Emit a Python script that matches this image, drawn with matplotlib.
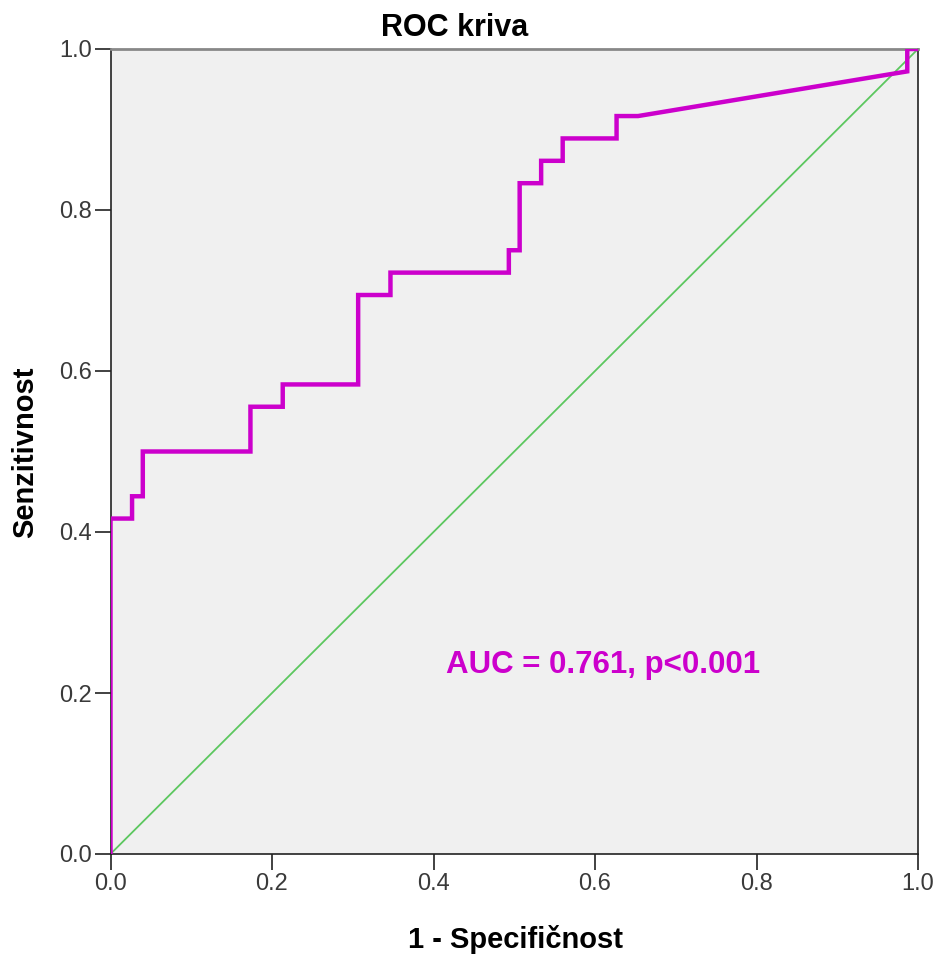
import matplotlib
matplotlib.use("Agg")
import matplotlib.pyplot as plt

plt.rcParams["font.family"] = ["Liberation Sans", "DejaVu Sans"]

# ROC curve points (1 - specificity, sensitivity)
fpr = [0.0, 0.0, 0.0267, 0.0267, 0.04, 0.04, 0.1733, 0.1733, 0.2133, 0.2133,
       0.3067, 0.3067, 0.3467, 0.3467, 0.4933, 0.4933, 0.5067, 0.5067, 0.5333,
       0.5333, 0.56, 0.56, 0.6267, 0.6267, 0.6533, 0.9867, 0.9867, 1.0]
tpr = [0.0, 0.4167, 0.4167, 0.4444, 0.4444, 0.5, 0.5, 0.5556, 0.5556, 0.5833,
       0.5833, 0.6944, 0.6944, 0.7222, 0.7222, 0.75, 0.75, 0.8333, 0.8333,
       0.8611, 0.8611, 0.8889, 0.8889, 0.9167, 0.9167, 0.9722, 1.0, 1.0]
auc = 0.761
p_text = "p<0.001"

W, H = 941, 958
fig = plt.figure(figsize=(W / 100, H / 100), dpi=100)
ax = fig.add_axes([110.5 / W, 1 - 854 / H, (918 - 110.5) / W, (854 - 49) / H])
ax.set_facecolor("#f0f0f0")

ax.plot([0, 1], [0, 1], color="#5cc75f", lw=1.3, zorder=2)
ax.plot(fpr, tpr, color="#cc00cc", lw=3.2, solid_joinstyle="miter", zorder=3)

ax.set_xlim(0, 1)
ax.set_ylim(0, 1)
ticks = [0.0, 0.2, 0.4, 0.6, 0.8, 1.0]
ax.set_xticks(ticks)
ax.set_yticks(ticks)
ax.set_xticklabels([f"{t:.1f}" for t in ticks], fontsize=17, color="#3a3a3a")
ax.set_yticklabels([f"{t:.1f}" for t in ticks], fontsize=17, color="#3a3a3a")
ax.tick_params(direction="out", length=11.5, width=1.3, color="#333333", pad=2)

for side in ["left", "bottom", "right"]:
    ax.spines[side].set_color("#222222")
    ax.spines[side].set_linewidth(1.2)
ax.spines["top"].set_color("#888888")
ax.spines["top"].set_linewidth(2)

ax.text(0.415, 0.235, f"AUC = {auc:.3f}, {p_text}", color="#cc00cc",
        fontsize=22.5, fontweight="bold", va="center", ha="left")

fig.text(455 / W, 1 - 28 / H, "ROC kriva", ha="center", va="center",
         fontsize=22, fontweight="bold")
fig.text(515 / W, 1 - 940 / H, "1 - Specifičnost", ha="center", va="center",
         fontsize=21, fontweight="bold")
fig.text(25 / W, 1 - 452 / H, "Senzitivnost", ha="center", va="center",
         rotation=90, fontsize=21, fontweight="bold")

fig.savefig("out.png", dpi=100, facecolor="white")
